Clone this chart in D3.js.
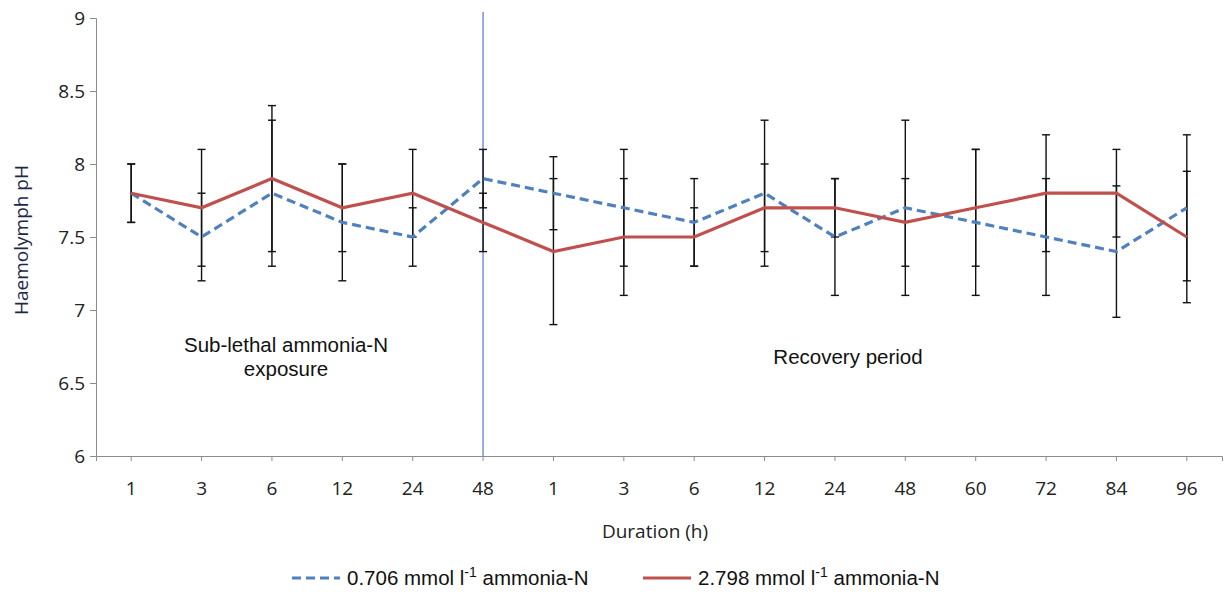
<!DOCTYPE html>
<html>
<head>
<meta charset="utf-8">
<script src="https://cdn.jsdelivr.net/npm/d3@7"></script>
<style>
  body { margin: 0; background: #fff; }
  #chart { width: 1224px; height: 592px; }
</style>
</head>
<body>
<div id="chart"></div>
<script>
const width = 1224;
const height = 592;
const marginTop = 18;
const marginRight = 2;
const marginBottom = 136;
const marginLeft = 96;

// x categories (exposure hours, then recovery hours)
const durations = ["1", "3", "6", "12", "24", "48", "1", "3", "6", "12", "24", "48", "60", "72", "84", "96"];
const yTicks = [6, 6.5, 7, 7.5, 8, 8.5, 9];

// 0.706 mmol l-1 ammonia-N
const lowMean = [7.8, 7.5, 7.8, 7.6, 7.5, 7.9, 7.8, 7.7, 7.6, 7.8, 7.5, 7.7, 7.6, 7.5, 7.4, 7.7];
const lowSD = [0.2, 0.3, 0.5, 0.4, 0.2, 0.2, 0.25, 0.4, 0.3, 0.5, 0.4, 0.6, 0.5, 0.4, 0.45, 0.5];
// 2.798 mmol l-1 ammonia-N
const highMean = [7.8, 7.7, 7.9, 7.7, 7.8, 7.6, 7.4, 7.5, 7.5, 7.7, 7.7, 7.6, 7.7, 7.8, 7.8, 7.5];
const highSD = [0.2, 0.4, 0.5, 0.3, 0.3, 0.2, 0.5, 0.4, 0.2, 0.3, 0.2, 0.3, 0.4, 0.4, 0.3, 0.45];

const series = [
  { name: "0.706", mean: lowMean, sd: lowSD, color: "#4f81bd", dash: "9,5" },
  { name: "2.798", mean: highMean, sd: highSD, color: "#c0504d", dash: null }
];

const axisFont = "19px";   // Calibri-like texts
const noteFont = "20.5px"; // Arial-like texts

const svg = d3.select('#chart').append('svg')
    .attr('width', width)
    .attr('height', height);

const x = d3.scaleBand()
    .domain(d3.range(durations.length))
    .range([marginLeft, width - marginRight]);

const y = d3.scaleLinear()
    .domain([6, 9])
    .range([height - marginBottom, marginTop]);

const cx = i => x(i) + x.bandwidth() / 2;

// y axis
svg.append("g")
    .attr("transform", `translate(${marginLeft},0)`)
    .call(d3.axisLeft(y).tickValues(yTicks).tickFormat(d3.format("")).tickSize(6).tickPadding(5))
    .call(g => g.selectAll("line, path").attr("stroke", "#8c8c8c"))
    .call(g => g.selectAll("text").attr("fill", "#222").style("font-family", "Open Sans").style("font-size", axisFont));

// x axis
svg.append("g")
    .attr("transform", `translate(0,${height - marginBottom})`)
    .call(d3.axisBottom(x).tickFormat(i => durations[i]).tickSize(5).tickSizeOuter(5).tickPadding(21))
    .call(g => g.selectAll("line, path").attr("stroke", "#8c8c8c"))
    .call(g => g.selectAll("text").attr("fill", "#222").style("font-family", "Open Sans").style("font-size", axisFont));

// divider between exposure and recovery
svg.append("line")
    .attr("x1", cx(5)).attr("x2", cx(5))
    .attr("y1", 12).attr("y2", y(6))
    .attr("stroke", "#5a6ee6")
    .attr("stroke-width", 1.2);

// error bars
const capW = 4;
series.forEach(s => {
  const g = svg.append("g").attr("stroke", "#111").attr("stroke-width", 1.4);
  s.mean.forEach((m, i) => {
    const top = y(m + s.sd[i]), bot = y(m - s.sd[i]);
    g.append("line").attr("x1", cx(i)).attr("x2", cx(i)).attr("y1", top).attr("y2", bot);
    g.append("line").attr("x1", cx(i) - capW).attr("x2", cx(i) + capW).attr("y1", top).attr("y2", top);
    g.append("line").attr("x1", cx(i) - capW).attr("x2", cx(i) + capW).attr("y1", bot).attr("y2", bot);
  });
});

// lines
const line = d3.line().x((d, i) => cx(i)).y(d => y(d));
series.forEach(s => {
  svg.append("path")
      .datum(s.mean)
      .attr("fill", "none")
      .attr("stroke", s.color)
      .attr("stroke-width", 3.2)
      .attr("stroke-dasharray", s.dash)
      .attr("d", line);
});

// annotations
const note = svg.append("g")
    .attr("text-anchor", "middle")
    .style("font-family", "Liberation Sans, Arial")
    .style("font-size", noteFont)
    .attr("fill", "#111");
note.append("text").attr("x", 286).attr("y", 352).text("Sub-lethal ammonia-N");
note.append("text").attr("x", 286).attr("y", 376).text("exposure");
note.append("text").attr("x", 848).attr("y", 364).text("Recovery period");

// axis titles
svg.append("text")
    .attr("x", 655).attr("y", 538)
    .attr("text-anchor", "middle")
    .style("font-family", "Open Sans").style("font-size", axisFont)
    .attr("fill", "#222")
    .text("Duration (h)");

svg.append("text")
    .attr("transform", "translate(28,240) rotate(-90)")
    .attr("text-anchor", "middle")
    .style("font-family", "Open Sans").style("font-size", axisFont)
    .attr("fill", "#1c2a4a")
    .text("Haemolymph pH");

// legend
const legend = svg.append("g")
    .style("font-family", "Liberation Sans, Arial")
    .style("font-size", noteFont)
    .attr("fill", "#111");
const legX = [292, 643];
series.forEach((s, k) => {
  const lg = legend.append("g").attr("transform", `translate(${legX[k]},578)`);
  lg.append("line")
      .attr("x1", 0).attr("x2", 48)
      .attr("stroke", s.color).attr("stroke-width", 3.2)
      .attr("stroke-dasharray", s.dash);
  const t = lg.append("text").attr("x", 55).attr("y", 7);
  t.append("tspan").text(`${s.name} mmol l`);
  t.append("tspan").attr("dy", -8).style("font-size", "14px").text("-1");
  t.append("tspan").attr("dy", 8).text(" ammonia-N");
});
</script>
</body>
</html>
